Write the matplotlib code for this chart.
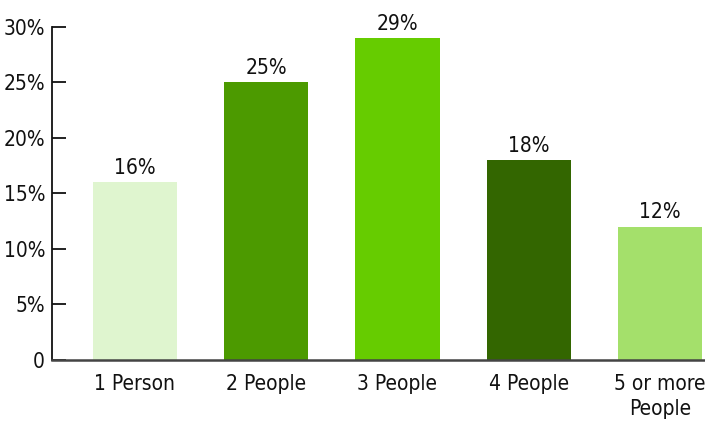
import matplotlib.pyplot as plt
from matplotlib.ticker import FuncFormatter

categories = ["1 Person", "2 People", "3 People", "4 People", "5 or more\nPeople"]
shares = [16, 25, 29, 18, 12]
colors = ["#dff5cf", "#4c9a00", "#66cc00", "#336600", "#a4e06b"]

plt.rcParams['font.family'] = ['DejaVu Sans']
plt.rcParams['font.stretch'] = 'condensed'

fig = plt.figure(figsize=(7.05, 4.25), dpi=100)
ax = fig.add_axes([0.0738, 0.153, 0.926, 0.7835])

x = list(range(len(categories)))
bars = ax.bar(x, shares, width=0.64, color=colors)
for b, v in zip(bars, shares):
    ax.text(b.get_x() + b.get_width() / 2, v + 0.4, f"{v}%",
            ha='center', va='bottom', fontsize=15, color='#111111')

ax.set_xlim(-0.63, 4.34)
ax.set_ylim(0, 30)
ax.set_yticks(range(0, 31, 5))
ax.yaxis.set_major_formatter(FuncFormatter(lambda v, p: "0" if v == 0 else f"{v:.0f}%"))
ax.set_xticks(x)
ax.set_xticklabels(categories, linespacing=1.3)

ax.tick_params(axis='y', direction='in', length=10, width=1.3,
               labelsize=15, pad=5, colors='#111111')
ax.tick_params(axis='x', length=0, labelsize=15, pad=10, colors='#111111')

for s in ['top', 'right']:
    ax.spines[s].set_visible(False)
ax.spines['left'].set_color('#111111')
ax.spines['left'].set_linewidth(1.3)
ax.spines['bottom'].set_color('#444444')
ax.spines['bottom'].set_linewidth(1.8)

plt.savefig("out.png", dpi=100)
